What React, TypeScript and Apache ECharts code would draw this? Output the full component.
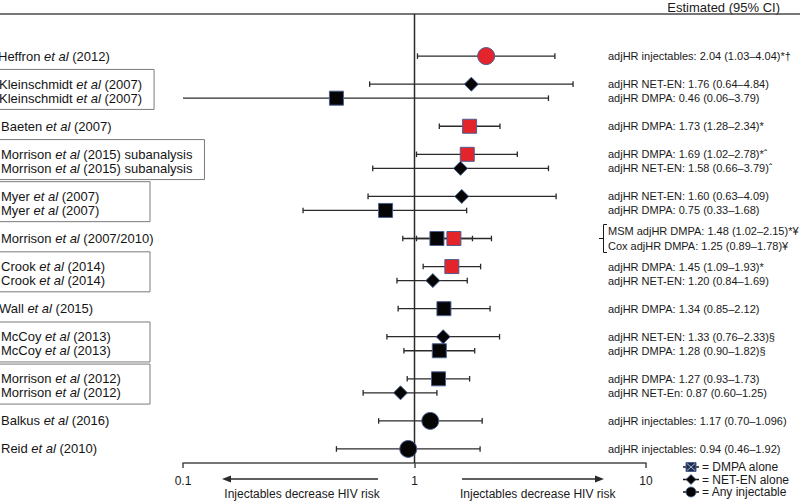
import React, { useEffect, useRef } from "react";
import * as echarts from "echarts";

// ---------- data ----------
const rowAuthors = ["Heffron", "Kleinschmidt", "Kleinschmidt", "Baeten", "Morrison", "Morrison", "Myer", "Myer", "Morrison", "Crook", "Crook", "Wall", "McCoy", "McCoy", "Morrison", "Morrison", "Balkus", "Reid"];
const rowYears = ["(2012)", "(2007)", "(2007)", "(2007)", "(2015) subanalysis", "(2015) subanalysis", "(2007)", "(2007)", "(2007/2010)", "(2014)", "(2014)", "(2015)", "(2013)", "(2013)", "(2012)", "(2012)", "(2016)", "(2010)"];
const rowSlots = [0, 2, 3, 5, 7, 8, 10, 11, 13, 15, 16, 18, 20, 21, 23, 24, 26, 28];

const estSlots = [0, 2, 3, 5, 7, 8, 10, 11, 13, 13, 15, 16, 18, 20, 21, 23, 24, 26, 28];
const estTypes = ["inj", "net", "dmpa", "dmpa", "dmpa", "net", "net", "dmpa", "dmpa", "dmpa", "dmpa", "net", "dmpa", "net", "dmpa", "dmpa", "net", "inj", "inj"];
const estHR = [2.04, 1.76, 0.46, 1.73, 1.69, 1.58, 1.6, 0.75, 1.48, 1.25, 1.45, 1.2, 1.34, 1.33, 1.28, 1.27, 0.87, 1.17, 0.94];
const estLow = [1.03, 0.64, 0.06, 1.28, 1.02, 0.66, 0.63, 0.33, 1.02, 0.89, 1.09, 0.84, 0.85, 0.76, 0.9, 0.93, 0.6, 0.7, 0.46];
const estHigh = [4.04, 4.84, 3.79, 2.34, 2.78, 3.79, 4.09, 1.68, 2.15, 1.78, 1.93, 1.69, 2.12, 2.33, 1.82, 1.73, 1.25, 1.96, 1.92];
const estSignificant = [true, false, false, true, true, false, false, false, true, false, true, false, false, false, false, false, false, false, false];
const estTexts = [
  "adjHR injectables: 2.04 (1.03–4.04)*†",
  "adjHR NET-EN: 1.76 (0.64–4.84)",
  "adjHR DMPA: 0.46 (0.06–3.79)",
  "adjHR DMPA: 1.73 (1.28–2.34)*",
  "adjHR DMPA: 1.69 (1.02–2.78)*ˆ",
  "adjHR NET-EN: 1.58 (0.66–3.79)ˆ",
  "adjHR NET-EN: 1.60 (0.63–4.09)",
  "adjHR DMPA: 0.75 (0.33–1.68)",
  "MSM adjHR DMPA: 1.48 (1.02–2.15)*¥",
  "Cox adjHR DMPA: 1.25 (0.89–1.78)¥",
  "adjHR DMPA: 1.45 (1.09–1.93)*",
  "adjHR NET-EN: 1.20 (0.84–1.69)",
  "adjHR DMPA: 1.34 (0.85–2.12)",
  "adjHR NET-EN: 1.33 (0.76–2.33)§",
  "adjHR DMPA: 1.28 (0.90–1.82)§",
  "adjHR DMPA: 1.27 (0.93–1.73)",
  "adjHR NET-En: 0.87 (0.60–1.25)",
  "adjHR injectables: 1.17 (0.70–1.096)",
  "adjHR injectables: 0.94 (0.46–1.92)",
];

const referenceValue = [1];
const axisTicks = [0.1, 1, 10];
const legendLabels = ["= DMPA alone", "= NET-EN alone", "= Any injectable"];
const headerText = "Estimated (95% CI)";
const directionText = "Injectables decrease HIV risk";

// ---------- style ----------
const FONT = "'Liberation Sans', Arial, Helvetica, sans-serif";
const RED = "#e4242b";
const BLACK = "#050505";
const EDGE = "#4d5f92";
const LINE = "#2a2a2a";
const X_MIN = 0.1;
const X_MAX = 10;
const LABEL_X = 1;
const cutAuthors: Record<string, number> = { Heffron: -3, Kleinschmidt: -2, Wall: -2 };

function measure(text: string, italic = false, size = 13) {
  const c = document.createElement("canvas").getContext("2d");
  if (!c) return text.length * size * 0.5;
  c.font = `${italic ? "italic " : ""}${size}px 'Liberation Sans', Arial, sans-serif`;
  return c.measureText(text).width;
}

export default function App() {
  const ref = useRef<HTMLDivElement>(null);

  useEffect(() => {
    if (!ref.current) return;
    const chart = echarts.init(ref.current, undefined, { renderer: "svg" });

    // group boxes: consecutive slots
    const boxes: number[][] = [];
    for (let i = 0; i < rowSlots.length - 1; i++) {
      if (rowSlots[i + 1] - rowSlots[i] === 1) {
        const w = (k: number) =>
          LABEL_X + (cutAuthors[rowAuthors[k]] || 0) +
          measure(rowAuthors[k] + " ") + measure("et al", true) + measure(" " + rowYears[k]);
        const right = Math.max(150, Math.max(w(i), w(i + 1)) + 12);
        boxes.push([1, rowSlots[i], rowSlots[i + 1], right]);
      }
    }

    const idx = estHR.map((_, i) => i);
    const scatterFor = (type: string) =>
      idx
        .filter((i) => estTypes[i] === type)
        .map((i) => ({
          value: [estHR[i], estSlots[i]],
          itemStyle: { color: estSignificant[i] ? RED : BLACK },
        }));

    const legendY = [467, 479.5, 492];

    const option: any = {
      animation: false,
      grid: { left: 183, right: 154, top: 14, bottom: 40, containLabel: false },
      xAxis: {
        type: "log",
        logBase: 10,
        min: X_MIN,
        max: X_MAX,
        position: "bottom",
        splitLine: { show: false },
        axisLine: { show: true, onZero: false, lineStyle: { color: "#4a4a4a", width: 1.5 } },
        axisTick: { show: true, length: 5, inside: false, lineStyle: { color: "#4a4a4a", width: 1.5 } },
        axisLabel: {
          show: true,
          margin: 12,
          fontSize: 12,
          fontFamily: FONT,
          color: "#1a1a1a",
          formatter: (v: number) => {
            const t = axisTicks.find((a) => Math.abs(a - v) < 1e-6 * Math.max(1, a));
            return t === undefined ? "" : String(t);
          },
        },
      },
      yAxis: {
        type: "value",
        inverse: true,
        min: -3,
        max: 29,
        show: false,
        axisLine: { onZero: false },
      },
      graphic: [
        { type: "line", shape: { x1: 0, y1: 14, x2: 800, y2: 14 }, style: { stroke: "#4a4a4a", lineWidth: 1.5 }, z: 1 },
        {
          type: "text",
          x: 780,
          y: 7,
          style: { text: headerText, fontSize: 13, fontFamily: FONT, fill: "#1a1a1a", align: "right", verticalAlign: "middle" },
        },
        // arrows
        { type: "line", shape: { x1: 229, y1: 479, x2: 378, y2: 479 }, style: { stroke: LINE, lineWidth: 1.3 } },
        { type: "polygon", shape: { points: [[222, 479], [231, 475.5], [231, 482.5]] }, style: { fill: LINE } },
        { type: "line", shape: { x1: 462, y1: 479, x2: 597, y2: 479 }, style: { stroke: LINE, lineWidth: 1.3 } },
        { type: "polygon", shape: { points: [[604, 479], [595, 475.5], [595, 482.5]] }, style: { fill: LINE } },
        {
          type: "text",
          x: 302,
          y: 494,
          style: { text: directionText, fontSize: 12, fontFamily: FONT, fill: "#1a1a1a", align: "center", verticalAlign: "middle" },
        },
        {
          type: "text",
          x: 460,
          y: 494,
          style: { text: directionText, fontSize: 12, fontFamily: FONT, fill: "#1a1a1a", align: "left", verticalAlign: "middle" },
        },
        // legend
        ...legendY.flatMap((y, k) => {
          const items: any[] = [
            { type: "line", shape: { x1: 683, y1: y, x2: 699, y2: y }, style: { stroke: "#111", lineWidth: 1.5 } },
          ];
          if (k === 0) {
            items.push({ type: "rect", shape: { x: 686, y: y - 4.5, width: 10, height: 9 }, style: { fill: "#22304f", stroke: EDGE, lineWidth: 1 } });
            items.push({ type: "line", shape: { x1: 687, y1: y - 3.5, x2: 695, y2: y + 3.5 }, style: { stroke: "#9fb0d4", lineWidth: 1 } });
            items.push({ type: "line", shape: { x1: 695, y1: y - 3.5, x2: 687, y2: y + 3.5 }, style: { stroke: "#9fb0d4", lineWidth: 1 } });
          } else if (k === 1) {
            items.push({ type: "polygon", shape: { points: [[691, y - 5], [696, y], [691, y + 5], [686, y]] }, style: { fill: BLACK, stroke: EDGE, lineWidth: 0.8 } });
          } else {
            items.push({ type: "circle", shape: { cx: 691, cy: y, r: 5 }, style: { fill: BLACK, stroke: EDGE, lineWidth: 0.8 } });
          }
          items.push({
            type: "text",
            x: 702,
            y,
            style: { text: legendLabels[k], fontSize: 12, fontFamily: FONT, fill: "#1a1a1a", align: "left", verticalAlign: "middle" },
          });
          return items;
        }),
      ],
      series: [
        // group boxes
        {
          type: "custom",
          name: "boxes",
          clip: false,
          z: 1,
          data: boxes,
          renderItem: (params: any, api: any) => {
            const a = api.value(1);
            const b = api.value(2);
            const right = api.value(3);
            const top = api.coord([1, a - 1.05])[1];
            const bottom = api.coord([1, b + 0.8])[1];
            return {
              type: "rect",
              shape: { x: -3, y: top, width: right + 3, height: bottom - top },
              style: { fill: "none", stroke: "#7a7a7a", lineWidth: 1 },
            };
          },
        },
        // reference line at HR = 1
        {
          type: "custom",
          name: "reference",
          clip: false,
          z: 2,
          data: referenceValue.map((v) => [v, 0]),
          renderItem: (params: any, api: any) => {
            const v = api.value(0);
            const top = api.coord([v, -3]);
            const bottom = api.coord([v, 29]);
            return {
              type: "line",
              shape: { x1: top[0], y1: top[1], x2: bottom[0], y2: bottom[1] },
              style: { stroke: "#2a2a2a", lineWidth: 1.5 },
            };
          },
        },
        // left labels
        {
          type: "custom",
          name: "studies",
          clip: false,
          z: 2,
          data: rowSlots.map((s) => [1, s]),
          renderItem: (params: any, api: any) => {
            const i = params.dataIndex;
            const y = api.coord([1, api.value(1)])[1];
            const author = rowAuthors[i];
            return {
              type: "text",
              x: LABEL_X + (cutAuthors[author] || 0),
              y,
              style: {
                text: `{n|${author} }{i|et al}{n| ${rowYears[i]}}`,
                verticalAlign: "middle",
                align: "left",
                rich: {
                  n: { fontSize: 13, fontFamily: FONT, fill: "#141414", color: "#141414" },
                  i: { fontSize: 13, fontFamily: FONT, fontStyle: "italic", fill: "#141414", color: "#141414" },
                },
              },
            };
          },
        },
        // right texts
        {
          type: "custom",
          name: "estimates",
          clip: false,
          z: 2,
          data: idx.map((i) => [estHR[i], estSlots[i]]),
          renderItem: (params: any, api: any) => {
            const i = params.dataIndex;
            const slot = api.value(1);
            const shared = estSlots.filter((s) => s === slot).length > 1;
            const first = shared && estSlots.indexOf(slot) === i;
            const offset = shared ? (first ? -0.5 : 0.5) : 0;
            const y = api.coord([1, slot + offset])[1];
            const children: any[] = [
              {
                type: "text",
                x: 608,
                y,
                style: { text: estTexts[i], fontSize: 11, fontFamily: FONT, fill: "#1a1a1a", align: "left", verticalAlign: "middle" },
              },
            ];
            if (first) {
              const yc = api.coord([1, slot])[1];
              children.push({
                type: "polyline",
                shape: { points: [[607, yc - 14], [603.5, yc - 14], [603.5, yc + 14], [607, yc + 14]] },
                style: { stroke: "#1a1a1a", lineWidth: 1, fill: "none" },
              });
              children.push({
                type: "line",
                shape: { x1: 599, y1: yc, x2: 603.5, y2: yc },
                style: { stroke: "#1a1a1a", lineWidth: 1 },
              });
            }
            return { type: "group", children };
          },
        },
        // confidence intervals
        {
          type: "custom",
          name: "ci",
          clip: false,
          z: 3,
          data: idx.map((i) => [estHR[i], estSlots[i], estLow[i], estHigh[i]]),
          encode: { x: 0, y: 1 },
          renderItem: (params: any, api: any) => {
            const slot = api.value(1);
            const lo = api.value(2);
            const hi = api.value(3);
            const p1 = api.coord([Math.max(lo, X_MIN), slot]);
            const p2 = api.coord([Math.min(hi, X_MAX), slot]);
            const st = { stroke: LINE, lineWidth: 1.3 };
            const children: any[] = [
              { type: "line", shape: { x1: p1[0], y1: p1[1], x2: p2[0], y2: p2[1] }, style: st },
            ];
            if (lo >= X_MIN) children.push({ type: "line", shape: { x1: p1[0], y1: p1[1] - 2.8, x2: p1[0], y2: p1[1] + 2.8 }, style: st });
            if (hi <= X_MAX) children.push({ type: "line", shape: { x1: p2[0], y1: p2[1] - 2.8, x2: p2[0], y2: p2[1] + 2.8 }, style: st });
            return { type: "group", children };
          },
        },
        {
          type: "scatter",
          name: "DMPA",
          z: 4,
          symbol: "rect",
          symbolSize: 14,
          itemStyle: { borderColor: EDGE, borderWidth: 1, opacity: 1 },
          data: scatterFor("dmpa"),
        },
        {
          type: "scatter",
          name: "NET-EN",
          z: 4,
          symbol: "diamond",
          symbolSize: 14,
          itemStyle: { borderColor: EDGE, borderWidth: 1, opacity: 1 },
          data: scatterFor("net"),
        },
        {
          type: "scatter",
          name: "Injectables",
          z: 4,
          symbol: "circle",
          symbolSize: 17,
          itemStyle: { borderColor: EDGE, borderWidth: 1, opacity: 1 },
          data: scatterFor("inj"),
        },
      ],
    };

    chart.setOption(option);
    return () => chart.dispose();
  }, []);

  return (
    <div
      ref={ref}
      style={{ width: 800, height: 503, position: "fixed", left: 0, top: 0, background: "#fff" }}
    />
  );
}
